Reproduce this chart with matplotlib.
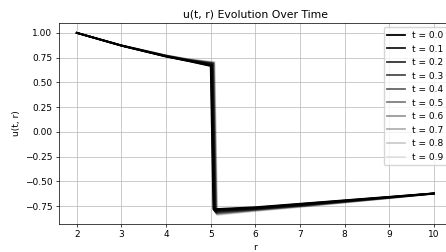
import matplotlib
matplotlib.use('Agg')
import matplotlib.pyplot as plt

# time labels for each curve
times = [0.0, 0.1, 0.2, 0.3, 0.4, 0.5, 0.6, 0.7, 0.8, 0.9]

# radial sample points on the smooth parts
r_left = [2.0, 3.0, 4.0, 4.5]
r_right = [6.0, 7.0, 8.0, 9.0, 10.0]

# where the jump sits for each time (left / right foot)
jump_left = [5.00, 5.01, 5.02, 5.03, 5.04, 5.05, 5.06, 5.07, 5.08, 5.09]
jump_right = [5.06, 5.07, 5.08, 5.09, 5.10, 5.11, 5.12, 5.13, 5.14, 5.15]

# u values left of the jump (at r_left, then at jump_left)
u_left = [
    [1.0, 0.870, 0.760, 0.715, 0.665],
    [1.0, 0.871, 0.762, 0.717, 0.670],
    [1.0, 0.871, 0.763, 0.719, 0.675],
    [1.0, 0.872, 0.765, 0.722, 0.680],
    [1.0, 0.872, 0.767, 0.724, 0.685],
    [1.0, 0.873, 0.768, 0.726, 0.690],
    [1.0, 0.873, 0.770, 0.728, 0.694],
    [1.0, 0.874, 0.771, 0.730, 0.698],
    [1.0, 0.874, 0.773, 0.733, 0.701],
    [1.0, 0.875, 0.775, 0.735, 0.705],
]

# u values right of the jump (at jump_right, then at r_right)
u_right = [
    [-0.780, -0.760, -0.725, -0.690, -0.655, -0.620],
    [-0.787, -0.765, -0.729, -0.693, -0.657, -0.621],
    [-0.793, -0.769, -0.733, -0.696, -0.659, -0.621],
    [-0.800, -0.774, -0.737, -0.698, -0.661, -0.622],
    [-0.807, -0.778, -0.741, -0.701, -0.662, -0.622],
    [-0.813, -0.782, -0.745, -0.704, -0.664, -0.623],
    [-0.820, -0.787, -0.749, -0.707, -0.666, -0.623],
    [-0.827, -0.791, -0.752, -0.710, -0.667, -0.624],
    [-0.833, -0.796, -0.756, -0.712, -0.669, -0.624],
    [-0.840, -0.800, -0.760, -0.715, -0.670, -0.625],
]

s = 0.65  # everything looks scaled down from the defaults
plt.rcParams.update({
    'font.size': 10 * s,
    'axes.linewidth': 0.8 * s,
    'grid.linewidth': 0.8 * s,
    'grid.color': '#b8b8b8',
    'xtick.major.size': 3.5 * s,
    'ytick.major.size': 3.5 * s,
    'xtick.major.width': 0.8 * s,
    'ytick.major.width': 0.8 * s,
    'xtick.major.pad': 3.5 * s,
    'ytick.major.pad': 3.5 * s,
    'axes.titlepad': 6 * s,
    'axes.labelpad': 4 * s,
})

fig = plt.figure(figsize=(4.46, 2.52), dpi=100)
ax = fig.add_axes([0.132, 0.111, 0.881, 0.798])

for i, t in enumerate(times):
    r = r_left + [jump_left[i], jump_right[i]] + r_right
    u = u_left[i] + u_right[i]
    ax.plot(r, u, color='k', alpha=1 - t, lw=1.3, label=f't = {t:.1f}')

ax.set_xlim(1.6, 10.4)
ax.set_ylim(-0.93, 1.1)
ax.set_yticks([-0.75, -0.5, -0.25, 0.0, 0.25, 0.5, 0.75, 1.0])
ax.set_title('u(t, r) Evolution Over Time', fontsize=12 * s)
ax.set_xlabel('r')
ax.set_ylabel('u(t, r)')
ax.grid(True)
ax.legend(loc='upper right', fontsize=10 * s)

fig.savefig('out.png', dpi=100)
